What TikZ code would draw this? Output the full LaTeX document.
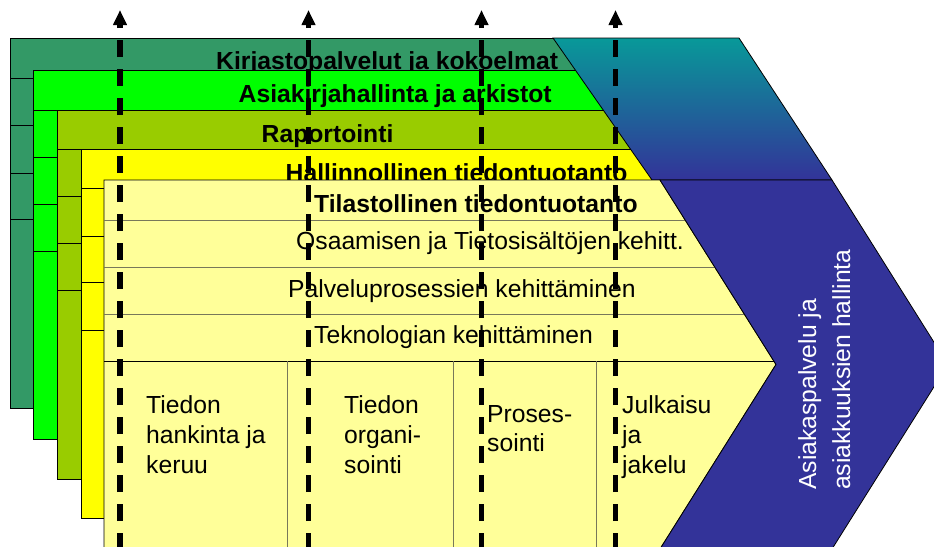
\documentclass[tikz,border=0pt]{standalone}
\usepackage{fontspec}
\setmainfont{Liberation Sans}
\usetikzlibrary{arrows.meta}
\definecolor{dkgreen}{RGB}{51,153,102}
\definecolor{brgreen}{RGB}{0,255,0}
\definecolor{layolive}{RGB}{153,204,0}
\definecolor{layyellow}{RGB}{255,255,0}
\definecolor{laylight}{RGB}{255,255,153}
\definecolor{chevblue}{RGB}{51,51,153}
\definecolor{tealtop}{RGB}{8,153,153}
\definecolor{bandgray}{RGB}{120,120,90}
\begin{document}
\begin{tikzpicture}[x=1pt,y=-1pt,
  layer/.style={draw=black, line width=0.8pt},
  hdr/.style={font=\fontsize{24.7}{29.7}\selectfont\bfseries, anchor=base west, inner sep=0pt},
  txt/.style={font=\fontsize{24.7}{29.7}\selectfont, anchor=base west, inner sep=0pt},
  wtxt/.style={txt, text=white, rotate=90},
  bandln/.style={draw=bandgray, line width=0.8pt},
  flow/.style={line width=5.3pt, dash pattern=on 17.5pt off 11.5pt, -{Triangle[width=13pt,length=15pt]}}
]
\useasboundingbox (0,0) rectangle (934,546);
\clip (0,0) rectangle (934,546);
% layer 1: dark green
\filldraw[layer, fill=dkgreen] (10,38) rectangle (700,408);
\draw[layer] (10,78) -- (700,78) (10,125) -- (700,125) (10,173) -- (700,173) (10,219) -- (700,219);
\node[hdr] (h1) at (216,69.5) {Kirjastopalvelut ja kokoelmat};
% layer 2: bright green
\filldraw[layer, fill=brgreen] (33,70) rectangle (700,439);
\draw[layer] (33,110) -- (700,110) (33,157) -- (700,157) (33,204) -- (700,204) (33,251) -- (700,251);
\node[hdr] (h2) at (238.5,102) {Asiakirjahallinta ja arkistot};
% layer 3: olive
\filldraw[layer, fill=layolive] (57,110) rectangle (700,479);
\draw[layer] (57,149) -- (700,149) (57,196) -- (700,196) (57,243) -- (700,243) (57,290) -- (700,290);
\node[hdr] (h3) at (261.5,142) {Raportointi};
% layer 4: yellow
\filldraw[layer, fill=layyellow] (81,149) rectangle (700,518);
\draw[layer] (81,188) -- (700,188) (81,236) -- (700,236) (81,282) -- (700,282) (81,330) -- (700,330);
\node[hdr] (h4) at (285.5,181) {Hallinnollinen tiedontuotanto};
% teal top band
\shade[top color=tealtop, bottom color=chevblue] (553,38) -- (739,38) -- (832,180) -- (652,180) -- cycle;
\draw[layer] (553,38) -- (739,38) -- (832,180) -- (652,180) -- cycle;
% layer 5: light yellow chevron
\filldraw[layer, fill=laylight] (104,180) -- (660,180) -- (776,364.5) -- (660,549) -- (104,549) -- cycle;
\draw[bandln] (104,220) -- (685.1,220) (104,267) -- (714.7,267) (104,314) -- (744.2,314);
\draw[layer] (104,361) -- (773.8,361);
\draw[bandln] (287,361) -- (287,549) (453,361) -- (453,549) (596,361) -- (596,549);
\node[hdr] (h5) at (314,212) {Tilastollinen tiedontuotanto};
\node[txt] (b1) at (296,249.5) {Osaamisen ja Tietosisältöjen kehitt.};
\node[txt] (b2) at (288,297) {Palveluprosessien kehittäminen};
\node[txt] (b3) at (314,343) {Teknologian kehittäminen};
\node[txt] (c1a) at (146,413.5) {Tiedon};
\node[txt] (c1b) at (146,443.5) {hankinta ja};
\node[txt] (c1c) at (146,473) {keruu};
\node[txt] (c2a) at (344,413.5) {Tiedon};
\node[txt] (c2b) at (344,443.5) {organi-};
\node[txt] (c2c) at (344,473) {sointi};
\node[txt] (c3a) at (487,422) {Proses-};
\node[txt] (c3b) at (487,451.5) {sointi};
\node[txt] (c4a) at (622,413.5) {Julkaisu};
\node[txt] (c4b) at (622,443.5) {ja};
\node[txt] (c4c) at (622,473) {jakelu};
% dark blue chevron
\filldraw[layer, fill=chevblue] (660,180) -- (832,180) -- (948,364.5) -- (832,549) -- (660,549) -- (776,364.5) -- cycle;
\node[wtxt] (r1) at (816,490) {Asiakaspalvelu ja};
\node[wtxt] (r2) at (850,490) {asiakkuuksien hallinta};
% dashed flow arrows
\coordinate (a1s) at (120,550); \coordinate (a1e) at (120,10);
\coordinate (a2s) at (308.5,550); \coordinate (a2e) at (308.5,10);
\coordinate (a3s) at (481.5,550); \coordinate (a3e) at (481.5,10);
\coordinate (a4s) at (615.5,550); \coordinate (a4e) at (615.5,10);
\draw[flow] (a1s) -- (a1e);
\draw[flow] (a2s) -- (a2e);
\draw[flow] (a3s) -- (a3e);
\draw[flow] (a4s) -- (a4e);
\end{tikzpicture}
\end{document}
